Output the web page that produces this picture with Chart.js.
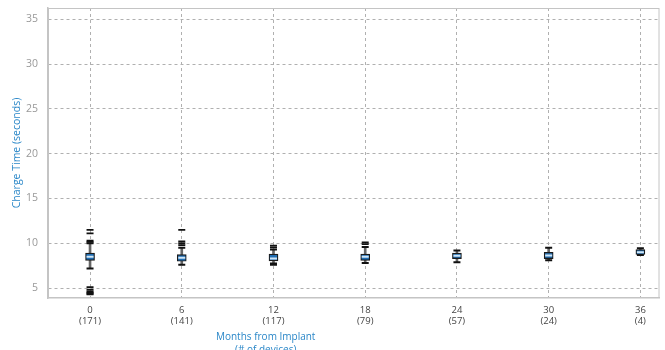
<!DOCTYPE html>
<html>
<head>
<meta charset="utf-8">
<script src="https://cdn.jsdelivr.net/npm/chart.js@4.4.1/dist/chart.umd.min.js"></script>
<style>
  html, body { margin: 0; padding: 0; background: #fff; overflow: hidden; }
  #wrap { position: relative; width: 665px; height: 362px; }
</style>
</head>
<body>
<div id="wrap"><canvas id="c"></canvas></div>
<script>
// ---- data ----
const months      = [0, 6, 12, 18, 24, 30, 36];
const devices     = [171, 141, 117, 79, 57, 24, 4];
const whiskerLow  = [7.2, 7.6, 7.75, 7.8, 7.9, 8.1, 8.7];
const q1          = [8.1, 8.0, 8.05, 8.1, 8.3, 8.3, 8.75];
const median      = [8.5, 8.4, 8.3, 8.5, 8.6, 8.65, 9.0];
const q3          = [8.9, 8.75, 8.8, 8.8, 8.9, 9.0, 9.3];
const whiskerHigh = [10.0, 9.5, 9.3, 9.6, 9.2, 9.5, 9.45];
const outliers0  = [11.5, 11.1, 10.3, 10.15, 5.1, 4.8, 4.6, 4.5, 4.4, 4.3];
const outliers6  = [11.5, 10.2, 10.0, 9.8];
const outliers12 = [9.75, 9.55, 7.6];
const outliers18 = [10.1, 9.9];
const outliers24 = [];
const outliers30 = [];
const outliers36 = [];
const yTicks = [5, 10, 15, 20, 25, 30, 35];
const xTitle = ['Months from Implant', '(# of devices)'];
const yTitle = 'Charge Time (seconds)';

const outlierLists = [outliers0, outliers6, outliers12, outliers18, outliers24, outliers30, outliers36];
const outlierPts = [];
outlierLists.forEach((list, i) => list.forEach(v => outlierPts.push({x: months[i], y: v})));

const BLUE = '#2a87c8';
const FONT = "'Open Sans', 'Noto Sans', sans-serif";

const framePlugin = {
  id: 'frame',
  beforeDatasetsDraw(chart) {
    const {ctx, chartArea: a} = chart;
    ctx.save();
    ctx.strokeStyle = '#c4c4c4';
    ctx.lineWidth = 1;
    ctx.strokeRect(a.left + 0.5, a.top + 0.5, a.right - a.left - 1, a.bottom - a.top - 1);
    ctx.restore();
  },
  afterDraw(chart) {
    // x-axis title, placed left of centre as in the reference
    const {ctx, chartArea: a} = chart;
    ctx.save();
    ctx.fillStyle = BLUE;
    ctx.font = "10px " + FONT;
    ctx.textAlign = 'center';
    ctx.textBaseline = 'middle';
    const cx = a.left + (a.right - a.left) * 0.356;
    xTitle.forEach((t, i) => ctx.fillText(t, cx, a.bottom + 39 + i * 13));
    ctx.restore();
  }
};

new Chart(document.getElementById('c'), {
  type: 'bar',
  data: {
    datasets: [
      {
        type: 'scatter', label: 'outliers', order: 0,
        data: outlierPts,
        pointStyle: 'line', radius: 3.5, hoverRadius: 3.5,
        borderColor: '#111', borderWidth: 1.8
      },
      {
        type: 'scatter', label: 'median', order: 1,
        data: months.map((m, i) => ({x: m, y: median[i]})),
        pointStyle: 'line', radius: 3.5, hoverRadius: 3.5,
        borderColor: '#cfe6f7', borderWidth: 2
      },
      {
        type: 'bar', label: 'box', order: 2, grouped: false,
        data: months.map((m, i) => ({x: m, y: [q1[i], q3[i]]})),
        backgroundColor: '#1f6db2', borderColor: '#1a1a1a', borderWidth: 1.2,
        borderSkipped: false, barThickness: 9
      },
      {
        type: 'scatter', label: 'caps', order: 3,
        data: months.map((m, i) => ({x: m, y: whiskerLow[i]})).concat(
              months.map((m, i) => ({x: m, y: whiskerHigh[i]}))),
        pointStyle: 'line', radius: 3.5, hoverRadius: 3.5,
        borderColor: '#111', borderWidth: 2
      },
      {
        type: 'bar', label: 'whisker', order: 4, grouped: false,
        data: months.map((m, i) => ({x: m, y: [whiskerLow[i], whiskerHigh[i]]})),
        backgroundColor: '#666', borderWidth: 0, barThickness: 2
      }
    ]
  },
  options: {
    responsive: true,
    maintainAspectRatio: false,
    animation: false,
    layout: { padding: { top: 8, right: 4, left: 0, bottom: 0 } },
    plugins: { legend: { display: false }, tooltip: { enabled: false } },
    scales: {
      x: {
        type: 'linear',
        offset: false,
        min: -2.75, max: 37.25,
        afterBuildTicks(axis) { axis.ticks = months.map(v => ({value: v})); },
        afterFit(axis) { axis.height = 64; },
        grid: { color: '#b0b0b0', drawTicks: false, offset: false },
        border: { display: true, color: '#c4c4c4', width: 1.5, dash: [3, 3] },
        ticks: {
          padding: 7,
          color: '#444',
          font: { family: FONT, size: 9.5, lineHeight: 1.15 },
          callback(v) {
            const i = months.indexOf(v);
            return i < 0 ? '' : [String(v), '(' + devices[i] + ')'];
          },
          maxRotation: 0, autoSkip: false
        },
        title: { display: false }
      },
      y: {
        min: 3.9, max: 36.25,
        afterBuildTicks(axis) { axis.ticks = yTicks.map(v => ({value: v})); },
        afterFit(axis) { axis.width = 48; axis.paddingTop = 0; axis.paddingBottom = 0; },
        grid: { color: '#b0b0b0', drawTicks: false },
        border: { display: true, color: '#c4c4c4', width: 1.5, dash: [3, 3] },
        ticks: {
          padding: 10,
          color: '#999',
          font: { family: FONT, size: 10.5 }
        },
        title: {
          display: true,
          text: yTitle,
          color: BLUE,
          font: { family: FONT, size: 10.5, lineHeight: 1.2 },
          padding: { top: 11, bottom: 0 }
        }
      }
    }
  },
  plugins: [framePlugin]
});
</script>
</body>
</html>
